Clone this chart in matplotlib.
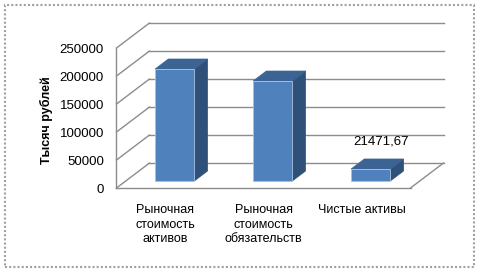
import matplotlib.pyplot as plt
from matplotlib.patches import Polygon, Rectangle
import numpy as np

# ---- data ----
categories = ['Рыночная\nстоимость\nактивов', 'Рыночная\nстоимость\nобязательств', 'Чистые активы']
values = [200000, 178528.33, 21471.67]
value_labels = [None, None, '21471,67']
y_ticks = [0, 50000, 100000, 150000, 200000, 250000]
y_label = 'Тысяч рублей'

# ---- figure / pseudo-3D geometry (pixels -> data) ----
W_PX, H_PX = 481, 273
x0_px, y0_px = 116.5, 188.0      # front-left floor corner
cat_px = 98.0                     # pixel width of one category slot
k = 140.0 / 250000                # px per value unit
depth_dx = 33.0 / cat_px          # full depth shift in category units
depth_dy = 25.0 / k               # full depth shift in value units

fig = plt.figure(figsize=(W_PX / 100, H_PX / 100), dpi=100)
ax = fig.add_axes([0, 0, 1, 1])
ax.set_xlim(-0.5 - x0_px / cat_px, -0.5 + (W_PX - x0_px) / cat_px)
ax.set_ylim((y0_px - H_PX) / k, y0_px / k)
ax.axis('off')

def P(c, v, d):
    """project (category, value, depth fraction) onto the 2D axes"""
    return (c + d * depth_dx, v + d * depth_dy)

grid_col = '#8c8c8c'
xl, xr = -0.5, len(categories) - 0.5
ymax = y_ticks[-1]

# back wall gridlines and left wall diagonals
for v in y_ticks:
    a, b = P(xl, v, 1), P(xr, v, 1)
    ax.plot([a[0], b[0]], [a[1], b[1]], color=grid_col, lw=1.0)
    a, b = P(xl, v, 0), P(xl, v, 1)
    ax.plot([a[0], b[0]], [a[1], b[1]], color=grid_col, lw=1.0)

# front vertical edge, floor front edge and right floor edge
for (p, q) in [(P(xl, 0, 0), P(xl, ymax, 0)),
               (P(xl, 0, 0), P(xr, 0, 0)),
               (P(xr, 0, 0), P(xr, 0, 1))]:
    ax.plot([p[0], q[0]], [p[1], q[1]], color=grid_col, lw=1.0)

# tick labels
for v in y_ticks:
    ax.text(-0.5 - (x0_px - 104) / cat_px, v - 2 / k, f'{v}', ha='right', va='center',
            fontsize=9.5, family='Liberation Sans', color='black')

# bars
front_col, top_col, side_col = '#4f81bd', '#3b6394', '#2f5079'
bw = 0.40
f0, f1 = 0.28, 0.68
for i, h in enumerate(values):
    cl, cr = i - bw / 2, i + bw / 2
    side = [P(cr, 0, f0), P(cr, 0, f1), P(cr, h, f1), P(cr, h, f0)]
    top = [P(cl, h, f0), P(cr, h, f0), P(cr, h, f1), P(cl, h, f1)]
    front = [P(cl, 0, f0), P(cr, 0, f0), P(cr, h, f0), P(cl, h, f0)]
    ax.add_patch(Polygon(side, closed=True, facecolor=side_col, edgecolor=side_col, lw=0.5, zorder=3))
    ax.add_patch(Polygon(top, closed=True, facecolor=top_col, edgecolor=top_col, lw=0.5, zorder=3))
    ax.add_patch(Polygon(front, closed=True, facecolor=front_col, edgecolor='#a9c0df', lw=0.6, zorder=4))
    if value_labels[i]:
        tx, ty = P(i - 0.03, h, f1)
        ax.text(tx, ty + 17 / k, value_labels[i], ha='center', va='center',
                fontsize=9.5, family='Liberation Sans', color='black', zorder=5)

# category labels
for i, lab in enumerate(categories):
    ax.text(i, (y0_px - 204) / k, lab, ha='center', va='top', fontsize=9,
            family='Liberation Sans', linespacing=1.3, color='black')

# axis title
ax.text(-0.5 - (x0_px - 46) / cat_px, (y0_px - 120) / k, y_label, rotation=90,
        ha='center', va='center', fontsize=9, fontweight='bold',
        family='Liberation Sans', color='black')

# dashed chart border
fig.patches.append(Rectangle((4.5 / W_PX, 1 - 266.5 / H_PX), 470 / W_PX, 262 / H_PX,
                             transform=fig.transFigure, fill=False, edgecolor='#a0a0a0',
                             lw=1.5, linestyle=(0, (1, 1))))

plt.savefig('out.png', dpi=100)
